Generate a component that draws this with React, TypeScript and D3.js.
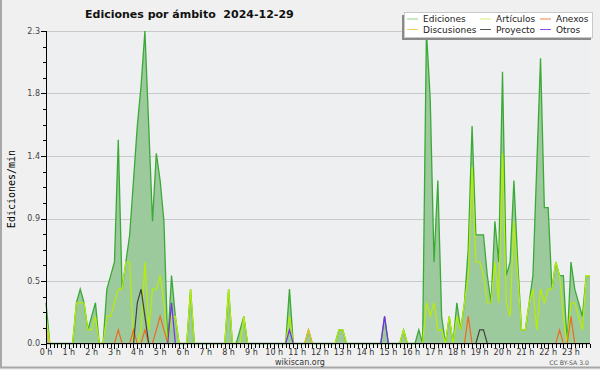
import * as d3 from "d3";
import React from "react";

// one value every 10 minutes, 0:00 -> 23:50
const ediciones = [
  0.3, 0, 0, 0, 0, 0, 0, 0, 0.3, 0.4, 0.3, 0.1,
  0.2, 0.3, 0, 0, 0.4, 0.5, 0.6, 1.5, 0.4, 0.6, 0.8, 1.2,
  1.6, 1.9, 2.3, 1.6, 0.9, 1.4, 1.2, 0.9, 0, 0.5, 0.2, 0,
  0, 0, 0.4, 0, 0, 0, 0, 0, 0, 0, 0, 0,
  0.4, 0, 0, 0.1, 0.2, 0, 0, 0, 0, 0, 0, 0,
  0, 0, 0, 0, 0.4, 0, 0, 0, 0, 0.1, 0, 0,
  0, 0, 0, 0, 0, 0.1, 0.1, 0, 0, 0, 0, 0,
  0, 0, 0, 0, 0, 0.2, 0, 0, 0, 0, 0.1, 0,
  0, 0, 0.1, 0, 2.3, 1.8, 0.6, 1.2, 0.2, 0, 0.2, 0,
  0.3, 0.1, 0.3, 0.7, 1.6, 0.8, 0.8, 0.8, 0.5, 0.3, 0.9, 0.6,
  2.0, 0.5, 0.6, 1.2, 0.6, 0.1, 0.1, 0.3, 0.5, 1.3, 2.1, 1.0,
  1.0, 0.4, 0.6, 0.5, 0.5, 0, 0.6, 0.4, 0.3, 0.2, 0.5, 0.5,
];
const articulos = [
  0.2, 0, 0, 0, 0, 0, 0, 0, 0.3, 0.3, 0.3, 0.1,
  0.1, 0.2, 0, 0, 0.2, 0.2, 0.3, 0.4, 0.4, 0.6, 0.6, 0,
  0, 0.1, 0.6, 0.1, 0.4, 0.4, 0.5, 0.3, 0, 0.2, 0.2, 0,
  0, 0, 0.4, 0, 0, 0, 0, 0, 0, 0, 0, 0,
  0.4, 0, 0, 0, 0.2, 0, 0, 0, 0, 0, 0, 0,
  0, 0, 0, 0, 0.2, 0, 0, 0, 0, 0, 0, 0,
  0, 0, 0, 0, 0, 0.1, 0.1, 0, 0, 0, 0, 0,
  0, 0, 0, 0, 0, 0, 0, 0, 0, 0, 0.1, 0,
  0, 0, 0, 0, 0.3, 0.2, 0.3, 0.1, 0.1, 0, 0.2, 0,
  0.2, 0.1, 0.3, 0.5, 1.3, 0.6, 0.6, 0.5, 0.3, 0.3, 0.6, 0.3,
  1.4, 0.3, 0.2, 0.9, 0.5, 0.1, 0.1, 0.3, 0.4, 0.1, 0.4, 0.3,
  0.4, 0.4, 0.6, 0.5, 0.2, 0, 0.3, 0.3, 0.2, 0.1, 0.5, 0.5,
];
const anexos = [
  0, 0, 0, 0, 0, 0, 0, 0, 0, 0, 0, 0,
  0, 0, 0, 0, 0, 0, 0, 0.1, 0, 0, 0, 0.1,
  0, 0, 0.1, 0, 0, 0.1, 0.2, 0.1, 0, 0, 0, 0,
  0, 0, 0, 0, 0, 0, 0, 0, 0, 0, 0, 0,
  0, 0, 0, 0, 0, 0, 0, 0, 0, 0, 0, 0,
  0, 0, 0, 0, 0, 0, 0, 0, 0, 0, 0, 0,
  0, 0, 0, 0, 0, 0, 0, 0, 0, 0, 0, 0,
  0, 0, 0, 0, 0, 0, 0, 0, 0, 0, 0, 0,
  0, 0, 0, 0, 0, 0, 0, 0, 0, 0, 0, 0,
  0, 0, 0, 0.2, 0, 0, 0, 0, 0, 0, 0, 0,
  0, 0, 0, 0, 0, 0, 0, 0, 0, 0, 0, 0,
  0, 0, 0, 0.1, 0, 0, 0.2, 0, 0, 0, 0, 0,
];
const discusiones = [
  0.1, 0, 0, 0, 0, 0, 0, 0, 0, 0, 0, 0,
  0, 0, 0, 0, 0, 0, 0, 0, 0, 0, 0, 0,
  0, 0, 0, 0, 0, 0, 0, 0, 0, 0, 0, 0,
  0, 0, 0, 0, 0, 0, 0, 0, 0, 0, 0, 0,
  0, 0, 0, 0, 0, 0, 0, 0, 0, 0, 0, 0,
  0, 0, 0, 0, 0, 0, 0, 0, 0, 0.1, 0, 0,
  0, 0, 0, 0, 0, 0, 0, 0, 0, 0, 0, 0,
  0, 0, 0, 0, 0, 0, 0, 0, 0, 0, 0, 0,
  0, 0, 0, 0, 0, 0, 0, 0, 0, 0, 0, 0,
  0, 0, 0, 0, 0, 0, 0, 0, 0, 0, 0, 0,
  0, 0, 0, 0, 0, 0, 0, 0, 0, 0, 0, 0,
  0, 0, 0, 0, 0, 0, 0, 0, 0, 0, 0, 0,
];
const proyecto = [
  0, 0, 0, 0, 0, 0, 0, 0, 0, 0, 0, 0,
  0, 0, 0, 0, 0, 0, 0, 0, 0, 0, 0, 0,
  0.3, 0.4, 0.2, 0, 0, 0, 0, 0, 0, 0, 0, 0,
  0, 0, 0, 0, 0, 0, 0, 0, 0, 0, 0, 0,
  0, 0, 0, 0, 0, 0, 0, 0, 0, 0, 0, 0,
  0, 0, 0, 0, 0, 0, 0, 0, 0, 0, 0, 0,
  0, 0, 0, 0, 0, 0, 0, 0, 0, 0, 0, 0,
  0, 0, 0, 0, 0, 0, 0, 0, 0, 0, 0, 0,
  0, 0, 0, 0, 0, 0, 0, 0, 0, 0, 0, 0,
  0, 0, 0, 0, 0, 0, 0.1, 0.1, 0, 0, 0, 0,
  0, 0, 0, 0, 0, 0, 0, 0, 0, 0, 0, 0,
  0, 0, 0, 0, 0, 0, 0, 0, 0, 0, 0, 0,
];
const otros = [
  0, 0, 0, 0, 0, 0, 0, 0, 0, 0, 0, 0,
  0, 0, 0, 0, 0, 0, 0, 0, 0, 0, 0, 0,
  0, 0, 0, 0, 0, 0, 0, 0, 0, 0.3, 0, 0,
  0, 0, 0, 0, 0, 0, 0, 0, 0, 0, 0, 0,
  0, 0, 0, 0, 0, 0, 0, 0, 0, 0, 0, 0,
  0, 0, 0, 0, 0.1, 0, 0, 0, 0, 0, 0, 0,
  0, 0, 0, 0, 0, 0, 0, 0, 0, 0, 0, 0,
  0, 0, 0, 0, 0, 0.2, 0, 0, 0, 0, 0, 0,
  0, 0, 0, 0, 0, 0, 0, 0, 0, 0, 0, 0,
  0, 0, 0, 0, 0, 0, 0, 0, 0, 0, 0, 0,
  0, 0, 0, 0, 0, 0, 0, 0, 0, 0, 0, 0,
  0, 0, 0, 0, 0, 0, 0, 0, 0, 0, 0, 0,
];

const hourLabels = [
  "0 h", "1 h", "2 h", "3 h", "4 h", "5 h", "6 h", "7 h", "8 h", "9 h", "10 h", "11 h",
  "12 h", "13 h", "14 h", "15 h", "16 h", "17 h", "18 h", "19 h", "20 h", "21 h", "22 h", "23 h",
];
const yTicks = [0, 0.46, 0.92, 1.38, 1.84, 2.3];

const legendItems = [
  { name: "Ediciones", color: "#8fd08f" },
  { name: "Discusiones", color: "#f7cf5a" },
  { name: "Artículos", color: "#d6ee7c" },
  { name: "Proyecto", color: "#555555" },
  { name: "Anexos", color: "#f0804e" },
  { name: "Otros", color: "#9350ee" },
];

const W = 600;
const H = 370;
const font = "DejaVu Sans, sans-serif";

export default function App() {
  const x = d3.scaleLinear().domain([0, ediciones.length - 1]).range([46, 590]);
  const y = d3.scaleLinear().domain([0, 2.3]).range([343.5, 31]);

  const area = d3.area<number>().x((_, i) => x(i)).y0(y(0)).y1(d => y(d));
  const line = d3.line<number>().x((_, i) => x(i)).y(d => y(d));

  const minorY = d3.range(0, 21).map(k => (k * 2.3) / 20);
  const xTicks = d3.range(0, 144);

  const lines = [
    { data: articulos, color: "#b8ee00" },
    { data: discusiones, color: "#f0c020" },
    { data: anexos, color: "#ee6a20" },
    { data: proyecto, color: "#404040" },
    { data: otros, color: "#7a2bef" },
  ];

  return (
    <svg width={W} height={H} style={{ position: "absolute", left: 0, top: 0 }} fontFamily={font}>
      <rect x={0} y={0} width={W} height={H} fill="#f0f0f0" />
      <rect x={46} y={31} width={544} height={313} fill="#eeeff1" />
      {/* frame */}
      <line x1={1} y1={0} x2={1} y2={368} stroke="#a8a8a8" strokeWidth={2} />
      <line x1={0} y1={367.5} x2={W} y2={367.5} stroke="#a8a8a8" strokeWidth={2} />

      {/* grid */}
      {yTicks.map(t => (
        <line key={t} x1={46} x2={590} y1={Math.round(y(t)) + 0.5} y2={Math.round(y(t)) + 0.5}
          stroke="#c9c9c9" strokeWidth={1} shapeRendering="crispEdges" />
      ))}

      {/* data */}
      <path d={area(ediciones) ?? ""} fill="#9dca9d" />
      <path d={line(ediciones) ?? ""} fill="none" stroke="#3aaa36" strokeWidth={1.3} />
      {lines.map(s => (
        <path key={s.color} d={line(s.data) ?? ""} fill="none" stroke={s.color} strokeWidth={1.2} />
      ))}

      {/* y axis */}
      <g shapeRendering="crispEdges">
        <line x1={46.5} x2={46.5} y1={31} y2={344} stroke="#000" />
        {minorY.map((t, k) => (
          <line key={k} x1={k % 4 === 0 ? 41 : 43} x2={46} y1={Math.round(y(t)) + 0.5} y2={Math.round(y(t)) + 0.5} stroke="#000" />
        ))}
      </g>
      {yTicks.map(t => (
        <text key={t} x={40} y={y(t)} dy="0.35em" textAnchor="end" fontSize={8} fill="#444">
          {t.toFixed(1)}
        </text>
      ))}
      <text transform="translate(15,189) rotate(-90)" textAnchor="middle" fontSize={10}
        fontFamily="DejaVu Sans Mono, monospace" fill="#000">Ediciones/min</text>

      {/* x axis */}
      <g shapeRendering="crispEdges">
        <line x1={46} x2={590} y1={343.5} y2={343.5} stroke="#000" />
        {xTicks.map(i => (
          <line key={i} x1={Math.round(x(i)) + 0.5} x2={Math.round(x(i)) + 0.5} y1={344}
            y2={i % 6 === 0 ? 349 : 348} stroke="#000" />
        ))}
      </g>
      {hourLabels.map((l, h) => (
        <text key={l} x={x(h * 6)} y={352} dy="0.35em" textAnchor="middle" fontSize={8} fill="#333">{l}</text>
      ))}

      {/* title */}
      <text x={85} y={18} fontSize={11} fontWeight="bold" fill="#111" style={{ whiteSpace: "pre" }}>
        {"Ediciones por ámbito  2024-12-29"}
      </text>

      {/* legend */}
      <rect x={402} y={15} width={189} height={25} fill="#8a8a8a" />
      <rect x={404.5} y={12.5} width={188} height={25} fill="#fff" stroke="#c8c8c8" />
      {legendItems.map((it, k) => {
        const col = Math.floor(k / 2);
        const row = k % 2;
        const lx = [407, 480, 540][col];
        const ly = 19 + row * 10.5;
        return (
          <g key={it.name}>
            <line x1={lx} x2={lx + 11} y1={ly} y2={ly} stroke={it.color} strokeWidth={1} />
            <text x={lx + 16} y={ly} dy="0.35em" fontSize={9} fill="#222">{it.name}</text>
          </g>
        );
      })}

      <text x={300} y={362} dy="0.35em" textAnchor="middle" fontSize={8} fill="#333">wikiscan.org</text>
      <text x={589} y={363} dy="0.3em" textAnchor="end" fontSize={6.2} fill="#555">CC BY-SA 3.0</text>
    </svg>
  );
}
